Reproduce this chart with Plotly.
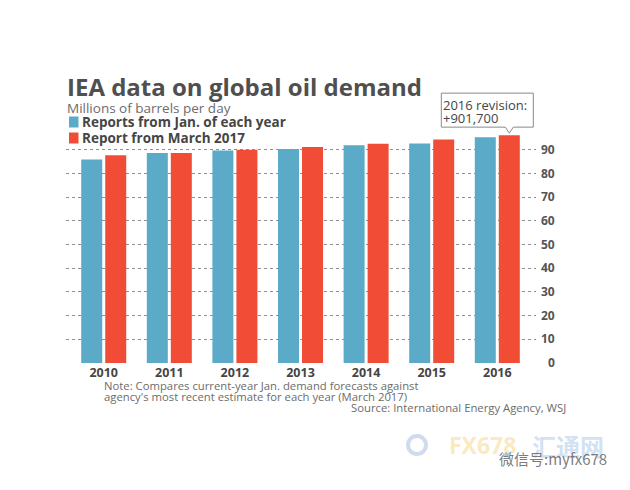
import plotly.graph_objects as go

years = ["2010", "2011", "2012", "2013", "2014", "2015", "2016"]
jan_reports = [85.8, 88.6, 89.6, 90.3, 91.8, 92.6, 95.2]
march_2017 = [87.6, 88.6, 89.9, 91.1, 92.5, 94.3, 96.1]
y_ticks = [0, 10, 20, 30, 40, 50, 60, 70, 80, 90]
y_tick_text = [("<span style='color:rgba(0,0,0,0)'>0</span>" + str(v)) if v < 10 else str(v)
               for v in y_ticks]

BLUE = "#5aaac8"
RED = "#f14d36"
DARK = "#454545"
GREY = "#6c6c6c"
FONT = "Open Sans"

X_RANGE = [-0.575, 6.59]
Y_RANGE = [0, 97]

fig = go.Figure()
fig.add_trace(go.Bar(x=years, y=jan_reports, marker_color=BLUE, marker_line_width=0,
                     name="Reports from Jan. of each year"))
fig.add_trace(go.Bar(x=years, y=march_2017, marker_color=RED, marker_line_width=0,
                     name="Report from March 2017"))

# page is rendered with an 8px body margin
W, H = 622, 482
L, R, T, B = 58, 94, 125, 127

fig.update_layout(
    width=W, height=H,
    margin=dict(l=L, r=R, t=T, b=B, pad=0),
    paper_bgcolor="white", plot_bgcolor="white",
    barmode="group", bargap=0.268, bargroupgap=0.125,
    showlegend=False,
    font=dict(family=FONT, color=DARK),
    xaxis=dict(type="category", range=X_RANGE, showgrid=False, zeroline=False,
               showline=False, ticks="",
               tickfont=dict(size=12.5, color=DARK, family=FONT, weight="bold"),
               fixedrange=True),
    yaxis=dict(side="right", range=Y_RANGE, tickvals=y_ticks, ticktext=y_tick_text,
               showgrid=True, gridcolor="#8f8f8f", griddash="dot", gridwidth=1,
               zeroline=False, showline=False, ticks="", ticklabelstandoff=4,
               tickfont=dict(size=12, color="#555555", family=FONT, weight="bold"),
               fixedrange=True),
)

# Title and subtitle
fig.add_annotation(xref="paper", yref="paper", x=0, y=1, xshift=-1, yshift=47,
                   xanchor="left", yanchor="middle", showarrow=False,
                   text="<b>IEA data on global oil demand</b>",
                   font=dict(size=24, color="#4f4f4f", family=FONT))
fig.add_annotation(xref="paper", yref="paper", x=0, y=1, xshift=-1, yshift=25,
                   xanchor="left", yanchor="middle", showarrow=False,
                   text="Millions of barrels per day",
                   font=dict(size=13.5, color=GREY, family=FONT))

# Legend (squares + labels)
legend_items = [("Reports from Jan. of each year", BLUE, 11), ("Report from March 2017", RED, -5)]
for label, col, dy in legend_items:
    fig.add_shape(type="rect", xref="paper", yref="paper",
                  xsizemode="pixel", ysizemode="pixel", xanchor=0, yanchor=1,
                  x0=3, x1=12.5, y0=dy - 5.5, y1=dy + 5.5,
                  fillcolor=col, line_width=0)
    fig.add_annotation(xref="paper", yref="paper", x=0, y=1, xshift=13.5, yshift=dy,
                       xanchor="left", yanchor="middle", showarrow=False,
                       text=f"<b>{label}</b>", font=dict(size=13.5, color=DARK, family=FONT))

# Callout on 2016 revision (anchored at the 2016 category / red bar top)
i16 = years.index("2016")
ax_px = (i16 - X_RANGE[0]) / (X_RANGE[1] - X_RANGE[0])
ay_px = (march_2017[i16] - Y_RANGE[0]) / (Y_RANGE[1] - Y_RANGE[0])
fig.add_shape(type="path", xref="paper", yref="paper", xsizemode="pixel", ysizemode="pixel",
              xanchor=ax_px, yanchor=ay_px,
              path="M -56 8 L 8 8 L 12 2 L 16 8 L 36 8 L 36 42 L -56 42 Z",
              fillcolor="white", line=dict(color="#8a8a8a", width=1), layer="above")
fig.add_annotation(x=i16, y=march_2017[i16], xshift=-56, yshift=30, showarrow=False,
                   xanchor="left", yanchor="middle", text="2016 revision:",
                   font=dict(size=13, color=DARK, family=FONT))
fig.add_annotation(x=i16, y=march_2017[i16], xshift=-56, yshift=17, showarrow=False,
                   xanchor="left", yanchor="middle", text="+901,700",
                   font=dict(size=13, color=DARK, family=FONT))

# Notes
note_lines = ["Note: Compares current-year Jan. demand forecasts against",
              "agency's most recent estimate for each year (March 2017)"]
for k, line in enumerate(note_lines):
    fig.add_annotation(xref="paper", yref="paper", x=0, y=0, xshift=36, yshift=-22 - 11.5 * k,
                       xanchor="left", yanchor="middle", showarrow=False,
                       text=line, font=dict(size=11.3, color=GREY, family=FONT))
fig.add_annotation(xref="paper", yref="paper", x=1, y=0, xshift=32, yshift=-44,
                   xanchor="right", yanchor="middle", showarrow=False,
                   text="Source: International Energy Agency, WSJ",
                   font=dict(size=11.3, color=GREY, family=FONT))

# Watermark
fig.add_shape(type="circle", xref="paper", yref="paper", xsizemode="pixel", ysizemode="pixel",
              xanchor=1, yanchor=0, x0=-128, x1=-110, y0=-91, y1=-73,
              line=dict(color="rgba(170,190,225,0.55)", width=4), fillcolor="rgba(0,0,0,0)")
fig.add_annotation(xref="paper", yref="paper", x=1, y=0, xshift=-89, yshift=-82,
                   xanchor="left", yanchor="middle", showarrow=False, text="<b>FX678</b>",
                   font=dict(size=23, color="rgba(246,214,140,0.55)", family=FONT))
fig.add_annotation(xref="paper", yref="paper", x=1, y=0, xshift=-6, yshift=-82,
                   xanchor="left", yanchor="middle", showarrow=False, text="<b>汇通网</b>",
                   font=dict(size=24, color="rgba(165,195,232,0.5)", family="Noto Sans CJK SC"))
fig.add_annotation(xref="paper", yref="paper", x=1, y=0, xshift=-39, yshift=-95,
                   xanchor="left", yanchor="middle", showarrow=False, text="微信号:myfx678",
                   font=dict(size=15, color="rgba(100,100,100,0.85)", family="Noto Sans CJK SC"))

fig.write_html("out.html")
